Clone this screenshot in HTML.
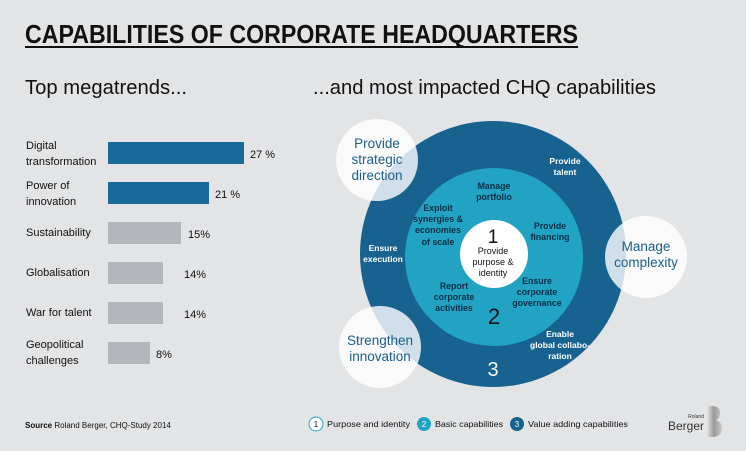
<!DOCTYPE html>
<html><head><meta charset="utf-8"><style>
html,body{margin:0;padding:0;background:#e3e4e6}
svg{display:block}
text{font-family:"Liberation Sans",sans-serif}
</style></head><body>
<svg width="746" height="451" viewBox="0 0 746 451" xmlns="http://www.w3.org/2000/svg">
<rect width="746" height="451" fill="#e3e4e6"/>
<text x="25" y="43" font-size="26" font-weight="bold" fill="#111" textLength="553" lengthAdjust="spacingAndGlyphs" font-family="Liberation Sans Narrow, Liberation Sans, sans-serif">CAPABILITIES OF CORPORATE HEADQUARTERS</text>
<rect x="25" y="46" width="553" height="2" fill="#111"/>
<text x="25" y="94" font-size="20" fill="#111" textLength="162" lengthAdjust="spacingAndGlyphs">Top megatrends...</text>
<text x="313" y="94" font-size="20" fill="#111" textLength="343" lengthAdjust="spacingAndGlyphs">...and most impacted CHQ capabilities</text>
<g font-size="11" fill="#111">
<text x="26" y="149">Digital</text><text x="26" y="165">transformation</text>
<rect x="108" y="142" width="136" height="22" fill="#1a6a9a"/><text x="250" y="158">27 %</text>
<text x="26" y="189">Power of</text><text x="26" y="205">innovation</text>
<rect x="108" y="182" width="101" height="22" fill="#1a6a9a"/><text x="215" y="198">21 %</text>
<text x="26" y="236">Sustainability</text>
<rect x="108" y="222" width="73" height="22" fill="#b3b6ba"/><text x="188" y="238">15%</text>
<text x="26" y="276">Globalisation</text>
<rect x="108" y="262" width="55" height="22" fill="#b3b6ba"/><text x="184" y="278">14%</text>
<text x="26" y="316">War for talent</text>
<rect x="108" y="302" width="55" height="22" fill="#b3b6ba"/><text x="184" y="318">14%</text>
<text x="26" y="348">Geopolitical</text><text x="26" y="364">challenges</text>
<rect x="108" y="342" width="42" height="22" fill="#b3b6ba"/><text x="156" y="358">8%</text>
</g>
<circle cx="493" cy="254" r="133" fill="#17628f"/>
<circle cx="494" cy="257" r="89" fill="#22a3c4"/>
<circle cx="494" cy="254" r="34" fill="#fff"/>
<g fill="#fff" font-size="8.5" font-weight="bold" text-anchor="middle">
<text x="565" y="164">Provide</text><text x="565" y="175">talent</text>
<text x="383" y="251">Ensure</text><text x="383" y="262">execution</text>
<text x="560" y="337">Enable</text><text x="560" y="348">global collabo-</text><text x="560" y="359">ration</text>
<text x="493" y="376" font-size="20" font-weight="normal">3</text>
</g>
<g fill="#0b2e45" font-size="8.8" font-weight="bold" text-anchor="middle">
<text x="494" y="189">Manage</text><text x="494" y="200">portfolio</text>
<text x="438" y="211">Exploit</text><text x="438" y="222">synergies &amp;</text><text x="438" y="233">economies</text><text x="438" y="245">of scale</text>
<text x="550" y="229">Provide</text><text x="550" y="240">financing</text>
<text x="454" y="289">Report</text><text x="454" y="300">corporate</text><text x="454" y="311">activities</text>
<text x="537" y="284">Ensure</text><text x="537" y="295">corporate</text><text x="537" y="306">governance</text>
<text x="494" y="324" font-size="22" font-weight="normal" fill="#111">2</text>
</g>
<g fill="#111" text-anchor="middle">
<text x="493" y="243" font-size="19">1</text>
<text x="493" y="254" font-size="9">Provide</text><text x="493" y="265" font-size="9">purpose &amp;</text><text x="493" y="276" font-size="9">identity</text>
</g>
<g fill="#fff" fill-opacity="0.8">
<circle cx="377" cy="160" r="41"/><circle cx="646" cy="257" r="41"/><circle cx="380" cy="347" r="41"/>
</g>
<g fill="#1a5f8a" font-size="13.5" text-anchor="middle">
<text x="377" y="148">Provide</text><text x="377" y="164">strategic</text><text x="377" y="180">direction</text>
<text x="646" y="251">Manage</text><text x="646" y="267">complexity</text>
<text x="380" y="345">Strengthen</text><text x="380" y="361">innovation</text>
</g>
<text x="25" y="428" font-size="8" fill="#111"><tspan font-weight="bold">Source</tspan> Roland Berger, CHQ-Study 2014</text>
<g font-size="8.5" fill="#111">
<circle cx="316" cy="424" r="7" fill="#fff" stroke="#22a3c4" stroke-width="1"/><text x="316" y="427" text-anchor="middle" font-size="8">1</text>
<text x="327" y="427" textLength="83" lengthAdjust="spacingAndGlyphs">Purpose and identity</text>
<circle cx="424" cy="424" r="7" fill="#22a3c4"/><text x="424" y="427" text-anchor="middle" font-size="8" fill="#fff">2</text>
<text x="435" y="427" textLength="68" lengthAdjust="spacingAndGlyphs">Basic capabilities</text>
<circle cx="517" cy="424" r="7" fill="#17628f"/><text x="517" y="427" text-anchor="middle" font-size="8" fill="#fff">3</text>
<text x="528" y="427" textLength="100" lengthAdjust="spacingAndGlyphs">Value adding capabilities</text>
</g>
<text x="704" y="418" font-size="5" fill="#333" text-anchor="end">Roland</text>
<text x="704" y="430" font-size="12" fill="#333" text-anchor="end">Berger</text>
<defs><linearGradient id="g" x1="0" x2="1"><stop offset="0" stop-color="#eee"/><stop offset="0.5" stop-color="#999"/><stop offset="1" stop-color="#ccc"/></linearGradient></defs>
<path d="M706 406 h6 q8 0 8 7 q0 5 -4 7 q6 2 6 8 q0 9 -10 9 h-6z" fill="url(#g)"/>
</svg>
</body></html>
